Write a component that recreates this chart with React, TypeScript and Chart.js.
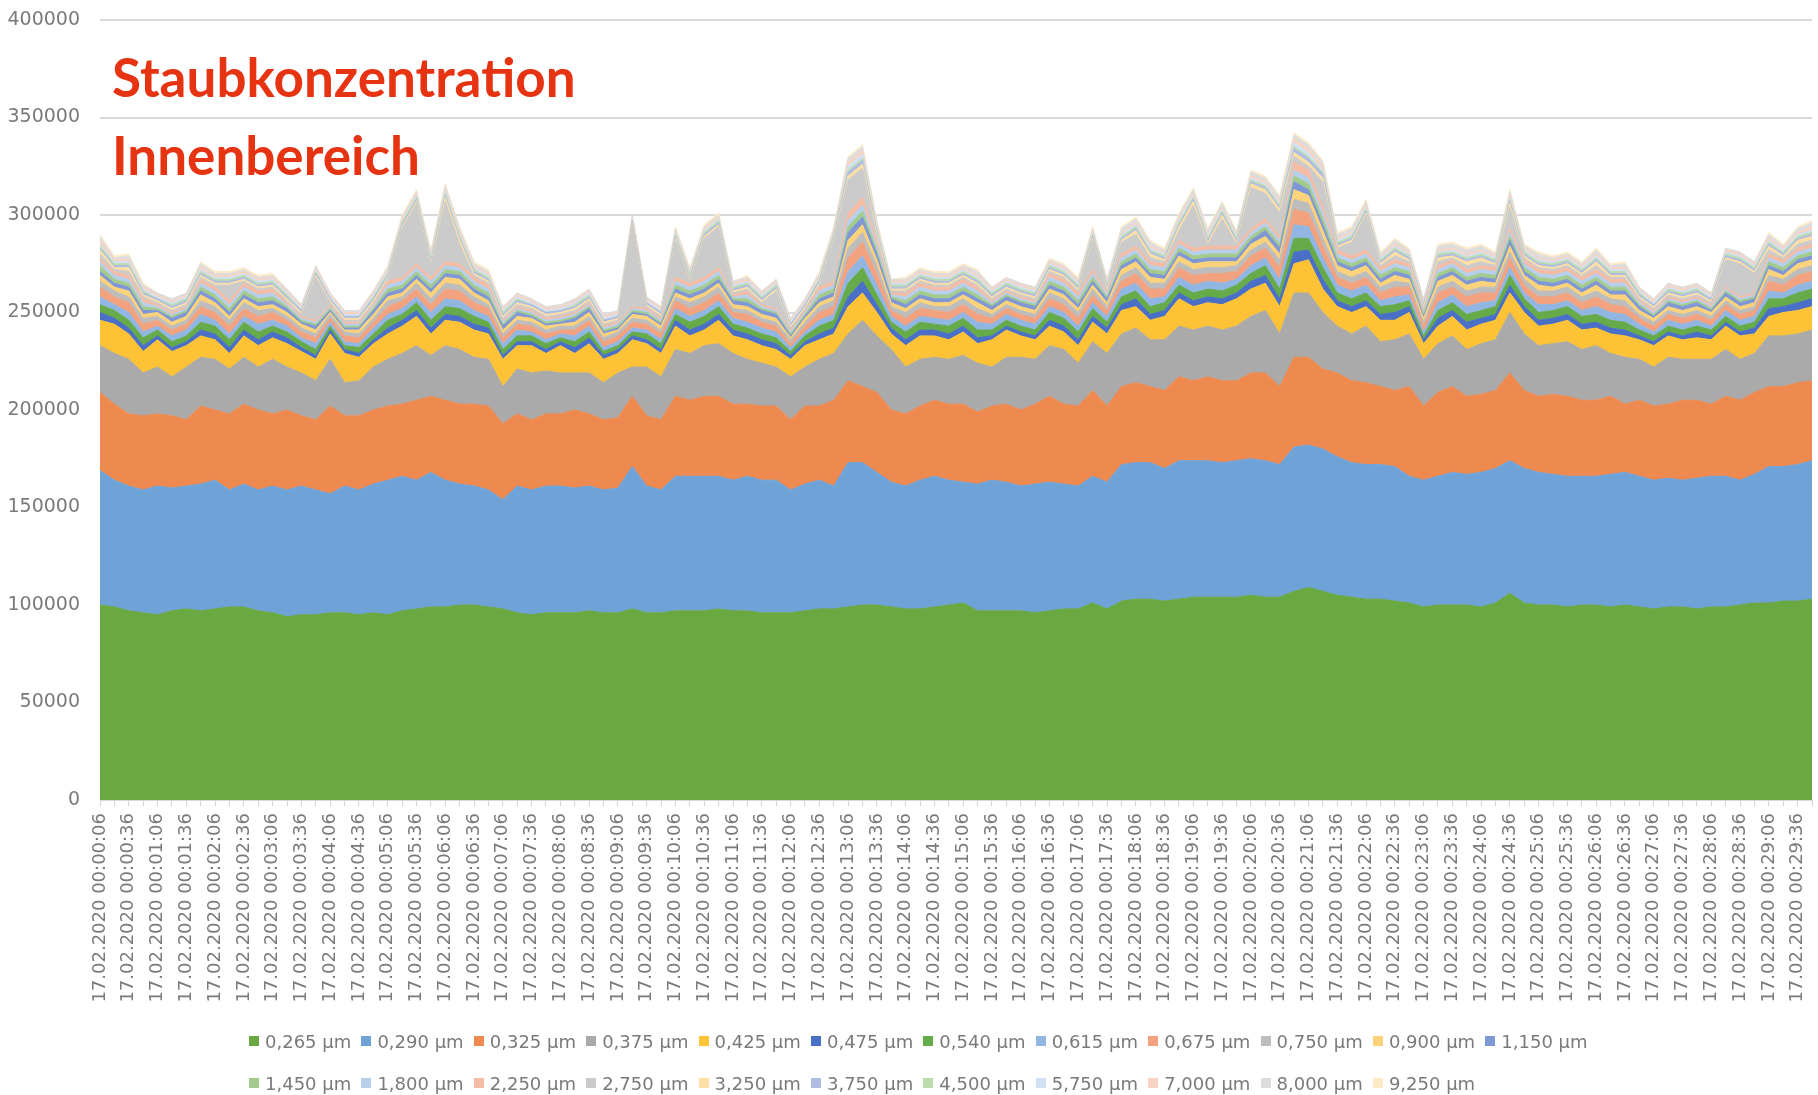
import { useEffect, useRef } from 'react';
import { Chart, registerables } from 'chart.js';

Chart.register(...registerables);

// ---- categories (measurement times, every 15 s) ----
const DATE = '17.02.2020';
const TIMES = [
  '00:00:06', '00:00:21', '00:00:36', '00:00:51', '00:01:06', '00:01:21', '00:01:36', '00:01:51',
  '00:02:06', '00:02:21', '00:02:36', '00:02:51', '00:03:06', '00:03:21', '00:03:36', '00:03:51',
  '00:04:06', '00:04:21', '00:04:36', '00:04:51', '00:05:06', '00:05:21', '00:05:36', '00:05:51',
  '00:06:06', '00:06:21', '00:06:36', '00:06:51', '00:07:06', '00:07:21', '00:07:36', '00:07:51',
  '00:08:06', '00:08:21', '00:08:36', '00:08:51', '00:09:06', '00:09:21', '00:09:36', '00:09:51',
  '00:10:06', '00:10:21', '00:10:36', '00:10:51', '00:11:06', '00:11:21', '00:11:36', '00:11:51',
  '00:12:06', '00:12:21', '00:12:36', '00:12:51', '00:13:06', '00:13:21', '00:13:36', '00:13:51',
  '00:14:06', '00:14:21', '00:14:36', '00:14:51', '00:15:06', '00:15:21', '00:15:36', '00:15:51',
  '00:16:06', '00:16:21', '00:16:36', '00:16:51', '00:17:06', '00:17:21', '00:17:36', '00:17:51',
  '00:18:06', '00:18:21', '00:18:36', '00:18:51', '00:19:06', '00:19:21', '00:19:36', '00:19:51',
  '00:20:06', '00:20:21', '00:20:36', '00:20:51', '00:21:06', '00:21:21', '00:21:36', '00:21:51',
  '00:22:06', '00:22:21', '00:22:36', '00:22:51', '00:23:06', '00:23:21', '00:23:36', '00:23:51',
  '00:24:06', '00:24:21', '00:24:36', '00:24:51', '00:25:06', '00:25:21', '00:25:36', '00:25:51',
  '00:26:06', '00:26:21', '00:26:36', '00:26:51', '00:27:06', '00:27:21', '00:27:36', '00:27:51',
  '00:28:06', '00:28:21', '00:28:36', '00:28:51', '00:29:06', '00:29:21', '00:29:36', '00:29:51',
];

// ---- particle size classes (series names) ----
const SIZES = [
  '0,265', '0,290', '0,325', '0,375', '0,425', '0,475', '0,540', '0,615', '0,675', '0,750', '0,900', '1,150',
  '1,450', '1,800', '2,250', '2,750', '3,250', '3,750', '4,500', '5,750', '7,000', '8,000', '9,250',
];

const COLORS = [
  '#6aa842', '#6fa3d8', '#ee8a4f', '#aaaaaa', '#fdc235', '#4a6fc6', '#66ab49', '#91b6e2', '#f2a27f', '#bdbdbd', '#fcd27a', '#7f97d5',
  '#a3cb8d', '#b6cfea', '#f5bca5', '#cbcbcb', '#fddfa5', '#aebce4', '#bcdcae', '#d0e1f3', '#f8d2c2', '#dddddd', '#feebc5',
];

// ---- series values, in thousands of particles ----
const UNIT = 1000;

const S_0265 = [
  100, 99, 97, 96, 95, 97, 98, 97, 98, 99, 99, 97, 96, 94, 95, 95, 96, 96, 95, 96,
  95, 97, 98, 99, 99, 100, 100, 99, 98, 96, 95, 96, 96, 96, 97, 96, 96, 98, 96, 96,
  97, 97, 97, 98, 97, 97, 96, 96, 96, 97, 98, 98, 99, 100, 100, 99, 98, 98, 99, 100,
  101, 97, 97, 97, 97, 96, 97, 98, 98, 101, 98, 102, 103, 103, 102, 103, 104, 104, 104, 104,
  105, 104, 104, 107, 109, 107, 105, 104, 103, 103, 102, 101, 99, 100, 100, 100, 99, 101, 106, 101,
  100, 100, 99, 100, 100, 99, 100, 99, 98, 99, 99, 98, 99, 99, 100, 101, 101, 102, 102, 103,
];
const S_0290 = [
  69, 65, 64, 63, 66, 63, 63, 65, 66, 60, 63, 62, 65, 65, 66, 64, 61, 65, 64, 66,
  69, 69, 66, 69, 65, 62, 61, 60, 56, 65, 64, 65, 65, 64, 64, 63, 64, 73, 65, 63,
  69, 69, 69, 68, 67, 69, 68, 68, 63, 65, 66, 63, 74, 73, 68, 64, 63, 66, 67, 64,
  62, 65, 67, 66, 64, 66, 66, 64, 63, 65, 65, 70, 70, 70, 68, 71, 70, 70, 69, 70,
  70, 70, 68, 74, 73, 73, 71, 69, 69, 69, 69, 65, 65, 66, 68, 67, 69, 69, 68, 69,
  68, 67, 67, 66, 66, 68, 68, 67, 66, 66, 65, 67, 67, 67, 64, 66, 70, 69, 70, 71,
];
const S_0325 = [
  40, 39, 37, 38, 37, 37, 34, 40, 36, 39, 41, 41, 37, 41, 36, 36, 45, 36, 38, 38,
  38, 37, 41, 39, 41, 41, 42, 43, 39, 37, 36, 37, 37, 40, 37, 36, 36, 36, 36, 36,
  41, 39, 41, 41, 39, 37, 38, 38, 36, 40, 38, 44, 42, 39, 41, 37, 37, 38, 39, 39,
  40, 37, 38, 40, 39, 41, 44, 41, 41, 44, 39, 40, 41, 39, 40, 43, 41, 43, 42, 41,
  44, 45, 40, 46, 45, 41, 43, 42, 42, 40, 39, 46, 38, 43, 44, 40, 40, 40, 45, 40,
  39, 41, 41, 39, 39, 40, 35, 39, 38, 38, 41, 40, 37, 41, 41, 42, 41, 41, 42, 41,
];
const S_0375 = [
  24, 26, 28, 22, 24, 20, 27, 25, 26, 23, 24, 22, 28, 22, 22, 20, 24, 17, 18, 22,
  24, 26, 28, 21, 28, 28, 24, 24, 19, 23, 24, 22, 21, 19, 21, 19, 23, 15, 25, 22,
  24, 24, 26, 27, 26, 23, 22, 20, 22, 20, 24, 24, 24, 34, 29, 31, 24, 24, 22, 23,
  25, 25, 20, 24, 27, 23, 26, 28, 22, 25, 27, 27, 28, 24, 26, 26, 26, 26, 26, 28,
  29, 32, 27, 33, 33, 29, 24, 24, 29, 23, 26, 27, 24, 25, 26, 24, 26, 26, 31, 29,
  26, 26, 28, 26, 28, 22, 24, 21, 20, 24, 21, 21, 23, 24, 21, 20, 26, 26, 25, 26,
];
const S_0425 = [
  13, 15, 13, 11, 14, 13, 11, 11, 10, 8, 11, 11, 11, 12, 11, 11, 13, 15, 12, 12,
  13, 14, 15, 11, 13, 14, 14, 13, 14, 12, 14, 9, 14, 10, 15, 12, 10, 14, 12, 12,
  12, 9, 8, 12, 9, 10, 9, 9, 9, 11, 10, 10, 14, 14, 12, 8, 11, 12, 11, 10,
  12, 10, 14, 14, 11, 10, 10, 9, 9, 10, 10, 12, 11, 10, 12, 14, 12, 12, 13, 14,
  14, 14, 14, 15, 17, 12, 10, 11, 10, 11, 10, 11, 8, 9, 10, 10, 10, 10, 10, 11,
  10, 10, 11, 10, 9, 10, 11, 10, 11, 11, 10, 11, 10, 12, 12, 10, 10, 12, 12, 12,
];
const S_0475 = [
  4, 3, 3, 3, 2, 2, 2, 3, 3, 3, 3, 3, 3, 3, 2, 2, 2, 2, 2, 2,
  3, 3, 3, 3, 3, 3, 3, 3, 2, 2, 2, 2, 2, 3, 3, 2, 2, 2, 2, 2,
  3, 3, 3, 3, 3, 3, 3, 3, 2, 2, 3, 3, 5, 6, 4, 3, 3, 3, 3, 3,
  3, 3, 2, 2, 2, 2, 3, 3, 3, 3, 3, 3, 4, 3, 3, 3, 3, 3, 3, 3,
  4, 4, 4, 6, 5, 5, 3, 3, 3, 3, 4, 3, 2, 4, 3, 4, 3, 3, 4, 3,
  3, 3, 3, 3, 3, 3, 3, 2, 2, 2, 2, 3, 2, 2, 2, 3, 4, 3, 4, 4,
];
const S_0540 = [
  4, 4, 4, 4, 3, 3, 3, 4, 4, 4, 4, 4, 3, 3, 3, 3, 2, 2, 3, 3,
  4, 3, 4, 4, 4, 4, 4, 3, 3, 3, 3, 3, 2, 3, 3, 2, 2, 2, 3, 3,
  3, 4, 4, 4, 3, 3, 3, 3, 2, 3, 4, 4, 7, 7, 5, 3, 4, 4, 3, 4,
  4, 4, 3, 3, 3, 3, 4, 4, 4, 4, 3, 4, 4, 4, 4, 4, 4, 4, 4, 4,
  4, 5, 5, 7, 6, 6, 4, 4, 4, 4, 4, 3, 2, 4, 4, 4, 4, 4, 5, 4,
  4, 4, 4, 4, 4, 4, 4, 3, 3, 3, 3, 3, 3, 3, 3, 3, 5, 4, 5, 5,
];
const S_0615 = [
  4, 3, 4, 3, 2, 3, 3, 4, 3, 3, 3, 4, 3, 3, 2, 3, 2, 2, 2, 3,
  3, 3, 3, 4, 4, 4, 3, 3, 3, 3, 2, 2, 2, 3, 3, 2, 2, 2, 2, 2,
  3, 3, 3, 3, 3, 3, 3, 3, 2, 2, 3, 3, 6, 6, 5, 3, 3, 3, 3, 3,
  3, 4, 3, 3, 3, 3, 3, 3, 3, 3, 3, 4, 4, 4, 3, 4, 4, 4, 4, 3,
  4, 4, 5, 7, 6, 5, 4, 4, 4, 3, 4, 3, 2, 4, 4, 4, 4, 3, 4, 3,
  4, 3, 3, 3, 4, 4, 4, 3, 2, 3, 3, 3, 2, 3, 3, 3, 4, 3, 4, 4,
];
const S_0675 = [
  5, 4, 5, 4, 3, 3, 3, 4, 4, 4, 4, 4, 4, 3, 3, 3, 2, 3, 3, 3,
  4, 4, 4, 4, 5, 5, 4, 4, 3, 3, 3, 3, 2, 3, 3, 3, 3, 3, 3, 3,
  4, 4, 4, 4, 3, 4, 3, 3, 2, 3, 4, 4, 7, 7, 6, 3, 4, 4, 4, 4,
  4, 4, 3, 3, 3, 3, 4, 4, 4, 4, 3, 4, 5, 5, 4, 5, 5, 4, 5, 4,
  5, 5, 6, 8, 7, 6, 4, 4, 4, 4, 5, 4, 3, 5, 4, 5, 5, 4, 5, 4,
  4, 4, 4, 4, 5, 4, 4, 3, 3, 3, 3, 3, 3, 3, 3, 3, 5, 4, 5, 5,
];
const S_0750 = [
  3, 3, 3, 3, 2, 2, 2, 3, 3, 3, 3, 3, 2, 2, 2, 2, 2, 2, 2, 2,
  3, 2, 3, 3, 3, 3, 3, 2, 2, 2, 2, 2, 2, 2, 2, 2, 2, 2, 2, 2,
  2, 3, 3, 3, 2, 2, 2, 2, 2, 2, 3, 3, 5, 5, 4, 2, 3, 3, 2, 3,
  3, 3, 2, 2, 2, 2, 3, 3, 3, 3, 2, 3, 3, 3, 3, 3, 3, 3, 3, 3,
  3, 3, 4, 5, 5, 4, 3, 3, 3, 3, 3, 2, 2, 3, 3, 3, 3, 3, 3, 3,
  3, 3, 3, 3, 3, 3, 3, 2, 2, 2, 2, 2, 2, 2, 2, 2, 3, 3, 3, 3,
];
const S_0900 = [
  3, 2, 3, 2, 2, 2, 2, 3, 2, 2, 2, 2, 2, 2, 2, 2, 1, 1, 2, 2,
  2, 2, 2, 3, 3, 3, 2, 2, 2, 2, 2, 2, 1, 2, 2, 2, 1, 2, 2, 2,
  2, 2, 2, 2, 2, 2, 2, 2, 1, 2, 2, 2, 4, 4, 3, 2, 2, 2, 2, 2,
  2, 3, 2, 2, 2, 2, 2, 2, 2, 2, 2, 3, 3, 3, 2, 3, 3, 3, 3, 2,
  3, 3, 3, 5, 4, 4, 3, 3, 3, 2, 3, 2, 2, 3, 3, 3, 3, 2, 3, 2,
  3, 2, 2, 2, 3, 2, 3, 2, 2, 2, 2, 2, 2, 2, 2, 2, 3, 2, 3, 3,
];
const S_1150 = [
  2, 2, 2, 2, 1, 2, 2, 2, 2, 2, 2, 2, 2, 2, 1, 2, 1, 1, 1, 2,
  2, 2, 2, 2, 2, 2, 2, 2, 2, 2, 1, 1, 1, 2, 2, 1, 1, 1, 1, 1,
  2, 2, 2, 2, 2, 2, 2, 2, 1, 1, 2, 2, 4, 4, 3, 2, 2, 2, 2, 2,
  2, 2, 2, 2, 2, 2, 2, 2, 2, 2, 2, 2, 2, 2, 2, 2, 2, 2, 2, 2,
  2, 3, 3, 4, 3, 3, 2, 2, 2, 2, 2, 2, 1, 2, 2, 2, 2, 2, 3, 2,
  2, 2, 2, 2, 2, 2, 2, 2, 1, 2, 2, 2, 1, 2, 2, 2, 2, 2, 2, 2,
];
const S_1450 = [
  3, 2, 2, 2, 1, 1, 1, 2, 2, 2, 2, 2, 2, 1, 1, 1, 1, 1, 1, 1,
  2, 2, 2, 2, 2, 2, 2, 2, 1, 1, 1, 1, 1, 1, 1, 1, 1, 1, 1, 1,
  2, 2, 2, 2, 1, 2, 1, 1, 1, 1, 2, 2, 3, 3, 2, 1, 2, 2, 2, 2,
  2, 2, 1, 1, 1, 1, 2, 2, 2, 2, 1, 2, 2, 2, 2, 2, 2, 2, 2, 2,
  2, 2, 2, 3, 3, 3, 2, 2, 2, 2, 2, 2, 1, 2, 2, 2, 2, 2, 2, 2,
  2, 2, 2, 2, 2, 2, 2, 1, 1, 1, 1, 1, 1, 1, 1, 1, 2, 2, 2, 2,
];
const S_1800 = [
  2, 2, 2, 2, 1, 1, 1, 2, 2, 2, 2, 2, 2, 1, 1, 1, 1, 1, 1, 1,
  2, 2, 2, 2, 2, 2, 2, 2, 1, 1, 1, 1, 1, 1, 1, 1, 1, 1, 1, 1,
  2, 2, 2, 2, 1, 2, 1, 1, 1, 1, 2, 2, 3, 3, 2, 1, 2, 2, 2, 2,
  2, 2, 1, 1, 1, 1, 2, 2, 2, 2, 1, 2, 2, 2, 2, 2, 2, 2, 2, 2,
  2, 2, 2, 3, 3, 3, 2, 2, 2, 2, 2, 2, 1, 2, 2, 2, 2, 2, 2, 2,
  2, 2, 2, 2, 2, 2, 2, 1, 1, 1, 1, 1, 1, 1, 1, 1, 2, 2, 2, 2,
];
const S_2250 = [
  2, 2, 2, 2, 1, 1, 1, 2, 2, 2, 2, 2, 2, 1, 1, 1, 1, 1, 1, 1,
  2, 2, 2, 2, 2, 2, 2, 2, 1, 1, 1, 1, 1, 1, 1, 1, 1, 1, 1, 1,
  2, 2, 2, 2, 1, 2, 1, 1, 1, 1, 2, 2, 4, 4, 2, 1, 2, 2, 2, 2,
  2, 2, 1, 1, 1, 1, 2, 2, 2, 2, 1, 2, 2, 2, 2, 2, 2, 2, 2, 2,
  2, 2, 2, 4, 4, 3, 2, 2, 2, 2, 2, 2, 1, 2, 2, 2, 2, 2, 2, 2,
  2, 2, 2, 2, 2, 2, 2, 1, 1, 1, 1, 1, 1, 1, 1, 1, 2, 2, 2, 2,
];
const S_2750 = [
  2, 1, 2, 1, 1, 1, 1, 1, 1, 8, 1, 1, 1, 1, 1, 22, 1, 1, 1, 1,
  1, 25, 31, 6, 31, 10, 1, 1, 1, 1, 1, 1, 1, 1, 1, 1, 1, 42, 1, 1,
  19, 1, 20, 21, 1, 1, 1, 9, 1, 1, 1, 21, 17, 15, 2, 1, 1, 1, 1, 1,
  1, 1, 1, 1, 1, 1, 1, 1, 1, 15, 1, 6, 6, 2, 1, 5, 22, 1, 14, 1,
  21, 13, 12, 3, 2, 13, 1, 7, 18, 1, 2, 1, 1, 2, 1, 2, 2, 1, 11, 1,
  1, 1, 1, 1, 2, 1, 1, 1, 1, 1, 1, 1, 1, 14, 17, 10, 2, 1, 2, 2,
];
const S_3250 = [
  2, 1, 2, 1, 1, 1, 1, 1, 1, 1, 1, 1, 1, 1, 1, 1, 1, 1, 1, 1,
  1, 1, 1, 1, 2, 2, 1, 1, 1, 1, 1, 1, 1, 1, 1, 1, 1, 1, 1, 1,
  1, 1, 1, 1, 1, 1, 1, 1, 1, 1, 1, 1, 2, 2, 2, 1, 1, 1, 1, 1,
  1, 1, 1, 1, 1, 1, 1, 1, 1, 1, 1, 1, 2, 2, 1, 2, 2, 1, 2, 1,
  2, 2, 2, 2, 2, 2, 1, 1, 1, 1, 2, 1, 1, 2, 1, 2, 2, 1, 2, 1,
  1, 1, 1, 1, 2, 1, 1, 1, 1, 1, 1, 1, 1, 1, 1, 1, 2, 1, 2, 2,
];
const S_3750 = [
  1, 1, 1, 1, 1, 1, 1, 1, 1, 1, 1, 1, 1, 1, 1, 1, 1, 1, 1, 1,
  1, 1, 1, 1, 1, 1, 1, 1, 1, 1, 1, 1, 1, 1, 1, 1, 1, 1, 1, 1,
  1, 1, 1, 1, 1, 1, 1, 1, 1, 1, 1, 1, 2, 2, 1, 1, 1, 1, 1, 1,
  1, 1, 1, 1, 1, 1, 1, 1, 1, 1, 1, 1, 1, 1, 1, 1, 1, 1, 1, 1,
  1, 1, 1, 2, 2, 2, 1, 1, 1, 1, 1, 1, 1, 1, 1, 1, 1, 1, 1, 1,
  1, 1, 1, 1, 1, 1, 1, 1, 1, 1, 1, 1, 1, 1, 1, 1, 1, 1, 1, 1,
];
const S_4500 = [
  1, 1, 1, 1, 0, 1, 1, 1, 1, 1, 1, 1, 1, 1, 0, 1, 0, 0, 0, 1,
  1, 1, 1, 1, 1, 1, 1, 1, 1, 1, 0, 0, 0, 1, 1, 0, 0, 0, 0, 0,
  1, 1, 1, 1, 1, 1, 1, 1, 0, 0, 1, 1, 1, 1, 1, 1, 1, 1, 1, 1,
  1, 1, 1, 1, 1, 1, 1, 1, 1, 1, 1, 1, 1, 1, 1, 1, 1, 1, 1, 1,
  1, 1, 1, 1, 1, 1, 1, 1, 1, 1, 1, 1, 0, 1, 1, 1, 1, 1, 1, 1,
  1, 1, 1, 1, 1, 1, 1, 1, 0, 1, 1, 1, 0, 1, 1, 1, 1, 1, 1, 1,
];
const S_5750 = [
  1, 1, 1, 1, 1, 1, 1, 1, 1, 1, 1, 1, 1, 1, 1, 1, 1, 1, 1, 1,
  1, 1, 1, 1, 1, 1, 1, 1, 1, 1, 1, 1, 1, 1, 1, 1, 1, 1, 1, 1,
  1, 1, 1, 1, 1, 1, 1, 1, 1, 1, 1, 1, 2, 2, 1, 1, 1, 1, 1, 1,
  1, 1, 1, 1, 1, 1, 1, 1, 1, 1, 1, 1, 1, 1, 1, 1, 1, 1, 1, 1,
  1, 1, 1, 2, 2, 1, 1, 1, 1, 1, 1, 1, 1, 1, 1, 1, 1, 1, 1, 1,
  1, 1, 1, 1, 1, 1, 1, 1, 1, 1, 1, 1, 1, 1, 1, 1, 1, 1, 1, 1,
];
const S_7000 = [
  2, 1, 1, 1, 1, 1, 1, 1, 1, 1, 1, 1, 1, 1, 1, 1, 1, 1, 1, 1,
  1, 1, 1, 1, 1, 1, 1, 1, 1, 1, 1, 1, 1, 1, 1, 1, 1, 1, 1, 1,
  1, 1, 1, 1, 1, 1, 1, 1, 1, 1, 1, 1, 2, 2, 1, 1, 1, 1, 1, 1,
  1, 1, 1, 1, 1, 1, 1, 1, 1, 1, 1, 1, 1, 1, 1, 1, 1, 1, 1, 1,
  1, 1, 1, 2, 2, 2, 1, 1, 1, 1, 1, 1, 1, 1, 1, 1, 1, 1, 1, 1,
  1, 1, 1, 1, 1, 1, 1, 1, 1, 1, 1, 1, 1, 1, 1, 1, 1, 1, 1, 2,
];
const S_8000 = [
  2, 1, 2, 1, 1, 1, 1, 2, 1, 1, 1, 1, 1, 1, 1, 1, 1, 1, 1, 1,
  1, 1, 1, 2, 2, 2, 1, 1, 1, 1, 1, 1, 1, 1, 1, 1, 1, 1, 1, 1,
  1, 1, 1, 1, 1, 1, 1, 1, 1, 1, 1, 1, 2, 2, 2, 1, 1, 1, 1, 1,
  1, 2, 1, 1, 1, 1, 1, 1, 1, 1, 1, 2, 2, 2, 1, 2, 2, 2, 2, 1,
  2, 2, 2, 2, 2, 2, 2, 2, 2, 1, 2, 1, 1, 2, 2, 2, 2, 1, 2, 1,
  2, 1, 1, 1, 2, 1, 2, 1, 1, 1, 1, 1, 1, 1, 1, 1, 2, 1, 2, 2,
];
const S_9250 = [
  1, 1, 1, 1, 0, 0, 0, 1, 1, 1, 1, 1, 1, 0, 0, 0, 0, 0, 0, 0,
  1, 1, 1, 1, 1, 1, 1, 1, 0, 0, 0, 0, 0, 0, 0, 0, 0, 0, 0, 0,
  1, 1, 1, 1, 0, 1, 0, 0, 0, 0, 1, 1, 1, 1, 1, 0, 1, 1, 1, 1,
  1, 1, 0, 0, 0, 0, 1, 1, 1, 1, 0, 1, 1, 1, 1, 1, 1, 1, 1, 1,
  1, 1, 1, 1, 1, 1, 1, 1, 1, 1, 1, 1, 0, 1, 1, 1, 1, 1, 1, 1,
  1, 1, 1, 1, 1, 1, 1, 0, 0, 0, 0, 0, 0, 0, 0, 0, 1, 1, 1, 1,
];

const SERIES = [
  S_0265, S_0290, S_0325, S_0375, S_0425, S_0475, S_0540, S_0615, S_0675, S_0750, S_0900, S_1150,
  S_1450, S_1800, S_2250, S_2750, S_3250, S_3750, S_4500, S_5750, S_7000, S_8000, S_9250,
];

// ---- value axis ----
const Y_MAX = 400000;
const Y_STEP = 50000;

const TITLE_LINES = ['Staubkonzentration', 'Innenbereich'];

const TEXT_FONT = "'DejaVu Sans', 'Open Sans', sans-serif";
const TEXT_COLOR = '#7a7a7a';

export default function App() {
  const canvasRef = useRef<HTMLCanvasElement | null>(null);

  useEffect(() => {
    const labels = TIMES.map((t) => `${DATE} ${t}`);
    const chart = new Chart(canvasRef.current as HTMLCanvasElement, {
      type: 'line',
      data: {
        labels,
        datasets: SERIES.map((s, k) => ({
          label: `${SIZES[k]} µm`,
          data: s.map((v) => v * UNIT),
          backgroundColor: COLORS[k],
          borderColor: COLORS[k],
          borderWidth: 1,
          pointRadius: 0,
          pointHoverRadius: 0,
          tension: 0,
          fill: k === 0 ? 'origin' : '-1',
        })),
      },
      options: {
        responsive: false,
        animation: false,
        devicePixelRatio: 1,
        events: [],
        layout: { padding: { top: 20, right: 6, bottom: 0, left: 0 } },
        plugins: {
          legend: { display: false },
          tooltip: { enabled: false },
          title: { display: false },
        },
        scales: {
          x: {
            grid: {
              display: true,
              drawOnChartArea: false,
              drawTicks: true,
              tickLength: 6,
              color: '#d4d4d4',
            },
            border: { display: false },
            ticks: {
              autoSkip: false,
              minRotation: 90,
              maxRotation: 90,
              padding: 7,
              color: TEXT_COLOR,
              font: { family: TEXT_FONT, size: 18 },
              callback: (_v: any, i: number) => (i % 2 === 0 ? labels[i] : ''),
            },
            afterFit: (s: any) => {
              s.height = 295;
              s.paddingLeft = 0;
              s.paddingRight = 0;
            },
          },
          y: {
            stacked: true,
            min: 0,
            max: Y_MAX,
            grid: { color: '#d9d9d9', lineWidth: 2, drawTicks: false },
            border: { display: false },
            ticks: {
              stepSize: Y_STEP,
              padding: 20,
              color: TEXT_COLOR,
              font: { family: TEXT_FONT, size: 19 },
              callback: (v: any) => String(v),
            },
            afterFit: (s: any) => {
              s.width = 100;
              s.paddingTop = 0;
              s.paddingBottom = 0;
            },
          },
        },
      },
    });
    return () => chart.destroy();
  }, []);

  const legendRows = [SIZES.slice(0, 12), SIZES.slice(12)];

  return (
    <div style={{ position: 'absolute', left: 0, top: 0, width: 1818, height: 1095, background: '#ffffff', overflow: 'hidden' }}>
      <canvas ref={canvasRef} width={1818} height={1095} style={{ display: 'block' }} />
      <div
        style={{
          position: 'absolute',
          left: 112,
          top: 38,
          fontFamily: "Lato, 'Open Sans', sans-serif",
          fontWeight: 700,
          fontSize: 53,
          lineHeight: '78px',
          color: '#e63312',
          whiteSpace: 'nowrap',
          pointerEvents: 'none',
        }}
      >
        {TITLE_LINES.map((l) => (
          <div key={l}>{l}</div>
        ))}
      </div>
      <div
        style={{
          position: 'absolute',
          left: 249,
          top: 1030,
          fontFamily: TEXT_FONT,
          fontSize: 18,
          color: TEXT_COLOR,
          whiteSpace: 'nowrap',
        }}
      >
        {legendRows.map((row, r) => (
          <div key={r} style={{ display: 'flex', height: 22, alignItems: 'center', marginTop: r === 0 ? 0 : 20 }}>
            {row.map((sz) => {
              const k = SIZES.indexOf(sz);
              return (
                <div key={sz} style={{ width: 112.4, display: 'flex', alignItems: 'center', flex: '0 0 auto' }}>
                  <span style={{ width: 10, height: 10, background: COLORS[k], marginRight: 6, display: 'inline-block' }} />
                  <span>{`${sz} µm`}</span>
                </div>
              );
            })}
          </div>
        ))}
      </div>
    </div>
  );
}
